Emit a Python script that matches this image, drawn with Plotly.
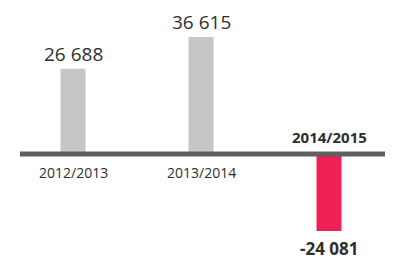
import plotly.graph_objects as go

categories = ["2012/2013", "2013/2014", "2014/2015"]
values = [26688, 36615, -24081]
bar_colors = ["#c6c6c6", "#c6c6c6", "#f01f55"]

def fmt(v):
    s = f"{abs(v):,}".replace(",", " ")
    return ("-" if v < 0 else "") + s

xs = list(range(len(categories)))

fig = go.Figure()
fig.add_trace(go.Bar(
    x=xs, y=values, width=0.195,
    marker=dict(color=bar_colors, line=dict(width=0)),
    hoverinfo="skip",
))

annotations = []
for x, v, c in zip(xs, values, categories):
    if v >= 0:
        annotations.append(dict(x=x, y=v, text=fmt(v), showarrow=False, yanchor="bottom", yshift=1,
                                borderpad=0,
                                font=dict(family="Open Sans", size=19, color="#2e2e2e", weight=400)))
        annotations.append(dict(x=x, y=0, text=c, showarrow=False, yanchor="top", yshift=-7,
                                font=dict(family="Open Sans", size=14, color="#2e2e2e")))
    else:
        annotations.append(dict(x=x, y=v, text=fmt(v), showarrow=False, yanchor="top", yshift=-5,
                                borderpad=0,
                                font=dict(family="Open Sans", size=17, color="#2e2e2e", weight="bold")))
        annotations.append(dict(x=x, y=0, text=c, showarrow=False, yanchor="bottom", yshift=5,
                                font=dict(family="Open Sans", size=15, color="#2e2e2e", weight="bold")))

fig.add_shape(type="line", xref="x", yref="y", x0=-0.415, x1=2.5, y0=0, y1=0,
              line=dict(color="#5c615e", width=5), layer="above")

fig.update_layout(
    width=385, height=253,
    margin=dict(l=1, r=0, t=0, b=0),
    paper_bgcolor="white", plot_bgcolor="white",
    showlegend=False,
    annotations=annotations,
    xaxis=dict(range=[-0.5, 2.5], visible=False, fixedrange=True),
    yaxis=dict(range=[-33500, 45700], showgrid=False, showticklabels=False, ticks="",
               zeroline=False, fixedrange=True),
)

fig.write_html("out.html")
